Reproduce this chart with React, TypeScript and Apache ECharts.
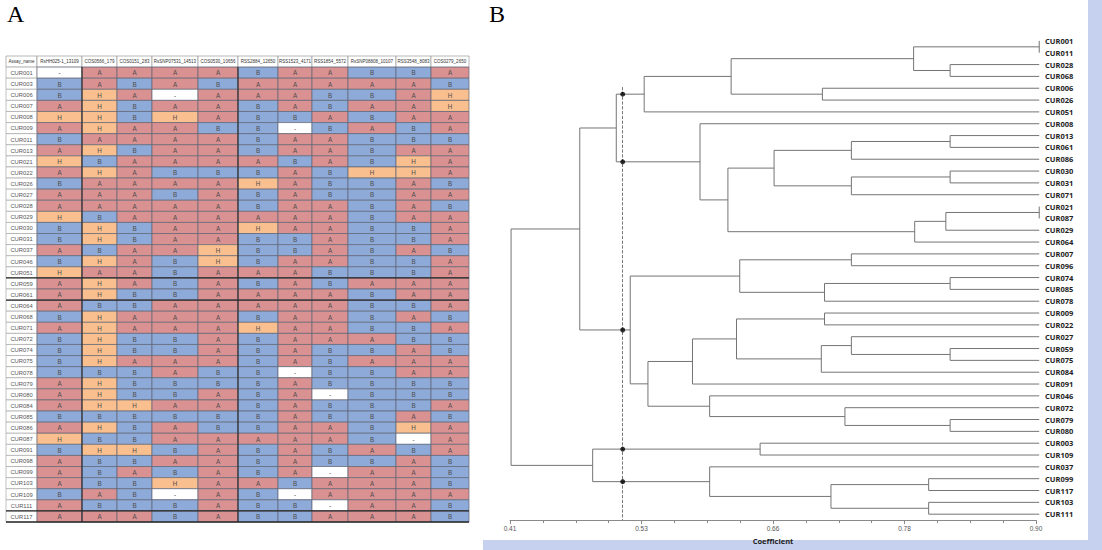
import React, { useEffect, useRef } from "react";
import * as echarts from "echarts";

// ---------------- Panel A: genotype table ----------------
const markerNames = [
  "RsHH025-1_13109", "COS0566_179", "COS0151_283", "RsSNP07531_14513", "COS0530_10656",
  "RSS2884_12650", "RSS1523_4171", "RSS1854_5572", "RsSNP08808_10107", "RSS3548_8083", "COS0279_2650",
];
const sampleNames = [
  "CUR001", "CUR003", "CUR006", "CUR007", "CUR008", "CUR009", "CUR011", "CUR013", "CUR021", "CUR022",
  "CUR026", "CUR027", "CUR028", "CUR029", "CUR030", "CUR031", "CUR037", "CUR046", "CUR051", "CUR059",
  "CUR061", "CUR064", "CUR068", "CUR071", "CUR072", "CUR074", "CUR075", "CUR078", "CUR079", "CUR080",
  "CUR084", "CUR085", "CUR086", "CUR087", "CUR091", "CUR098", "CUR099", "CUR103", "CUR109", "CUR111", "CUR117",
];
// one string per sample, one character per marker (A, B, H, - = missing)
const genotypeRows = [
  "-AAAABAABBA", "BABABAAAAAB", "BHA-AAABBAH", "AHBAABABAAH", "HHBHABBABAA", "AHAABB-BABA",
  "BAAAABAABBB", "AHBAABAABAA", "HBAAAABABHA", "AHABBBABHHA", "BAAAAHABBAB", "AAABABABBAA",
  "AAAAABAABAB", "HBAAAAAABAA", "BHBAAHAABBA", "BHBAABBABBA", "ABAAHBBABAB", "BHABHBAABBA",
  "HAABAAABBBA", "AHABABABAAA", "AHBBAAAABAA", "ABBAAAAABBA", "BHAAABAABAB", "AHAAAHAABBA",
  "BHBBABAAABB", "BHBBABABBAB", "BHAAABABAAA", "BBBABB-BBAA", "AHBBBBABBBB", "AHBBABA-BBB",
  "AHHAABABBBA", "BBBBBBABBAB", "AHBABBAABHA", "HBBAAAAAB-A", "BHHBABABABA", "ABBAABABBAB",
  "ABABABA-AAB", "ABBHAABAAAB", "BAB-AB-AAAA", "ABBBABB-AAB", "AAABABBAAAB",
];
const groupBreaksAfter = ["CUR051", "CUR061", "CUR111"];

// ---------------- Panel B: dendrogram ----------------
const leafOrder = [
  "CUR001", "CUR011", "CUR028", "CUR068", "CUR006", "CUR026", "CUR051", "CUR008", "CUR013", "CUR061",
  "CUR086", "CUR030", "CUR031", "CUR071", "CUR021", "CUR087", "CUR029", "CUR064", "CUR007", "CUR096",
  "CUR074", "CUR085", "CUR078", "CUR009", "CUR022", "CUR027", "CUR059", "CUR075", "CUR084", "CUR091",
  "CUR046", "CUR072", "CUR079", "CUR080", "CUR003", "CUR109", "CUR037", "CUR099", "CUR117", "CUR103", "CUR111",
];
// [child, child, similarity coefficient]; "m<k>" refers to the k-th merge
const merges: [string, string, number][] = [
  ["CUR001", "CUR011", 0.903], // m0
  ["CUR028", "CUR068", 0.82], // m1
  ["m0", "m1", 0.786], // m2
  ["CUR006", "CUR026", 0.701], // m3
  ["m2", "m3", 0.616], // m4
  ["m4", "CUR051", 0.535], // m5
  ["CUR013", "CUR061", 0.82], // m6
  ["m6", "CUR086", 0.728], // m7
  ["CUR030", "CUR031", 0.82], // m8
  ["m8", "CUR071", 0.728], // m9
  ["m7", "m9", 0.656], // m10
  ["CUR021", "CUR087", 0.903], // m11
  ["m11", "CUR029", 0.816], // m12
  ["m12", "CUR064", 0.787], // m13
  ["m10", "m13", 0.613], // m14
  ["CUR008", "m14", 0.587], // m15
  ["m5", "m15", 0.509], // m16
  ["CUR007", "CUR096", 0.728], // m17
  ["CUR074", "CUR085", 0.82], // m18
  ["m18", "CUR078", 0.703], // m19
  ["m17", "m19", 0.624], // m20
  ["CUR009", "CUR022", 0.703], // m21
  ["CUR059", "CUR075", 0.82], // m22
  ["CUR027", "m22", 0.728], // m23
  ["m23", "CUR084", 0.7], // m24
  ["m21", "m24", 0.621], // m25
  ["m25", "CUR091", 0.58], // m26
  ["CUR079", "CUR080", 0.82], // m27
  ["CUR072", "m27", 0.722], // m28
  ["CUR046", "m28", 0.596], // m29
  ["m26", "m29", 0.5385], // m30
  ["m20", "m30", 0.522], // m31
  ["m16", "m31", 0.475], // m32
  ["CUR003", "CUR109", 0.643], // m33
  ["CUR099", "CUR117", 0.8], // m34
  ["CUR103", "CUR111", 0.8], // m35
  ["m34", "m35", 0.709], // m36
  ["CUR037", "m36", 0.596], // m37
  ["m33", "m37", 0.487], // m38
  ["m32", "m38", 0.411], // m39
];
const leafLevel = 0.903;
const cutoff = 0.515;
const axisMin = 0.41;
const axisMax = 0.9;
const xTickLabels = ["0.41", "0.53", "0.66", "0.78", "0.90"];

// ---------------- layout / style ----------------
const colWidths = [31, 45, 35, 35, 46, 40, 40, 34, 36, 48, 35, 38];
const genoColors: Record<string, string> = { A: "#da9191", B: "#8eaad8", H: "#f9bf8e", "-": "#ffffff" };

export default function App() {
  const ref = useRef<HTMLDivElement>(null);

  useEffect(() => {
    if (!ref.current) return;
    const chart = echarts.init(ref.current, null, { renderer: "svg" });

    // ---- table cells ----
    const colStart: number[] = [];
    let acc = 0;
    colWidths.forEach((w) => { colStart.push(acc); acc += w; });
    const tableWidth = acc;
    const cellData: number[][] = [];
    const cellInfo: { text: string; kind: string }[] = [];
    const addCell = (c: number, r: number, text: string, kind: string) => {
      cellData.push([colStart[c], r, colWidths[c]]);
      cellInfo.push({ text, kind });
    };
    addCell(0, 0, "Assay_name", "head");
    markerNames.forEach((m, j) => addCell(j + 1, 0, m, "head"));
    sampleNames.forEach((s, i) => {
      addCell(0, i + 1, s, "name");
      for (let j = 0; j < markerNames.length; j++) addCell(j + 1, i + 1, genotypeRows[i][j], "geno");
    });
    const nRows = sampleNames.length + 1;

    // rules: thick horizontal breaks and darker column edges
    const rules: number[][] = [];
    groupBreaksAfter.forEach((s) => {
      const r = sampleNames.indexOf(s) + 1 + 0.5;
      rules.push([0, r, tableWidth, r, 1.4]);
    });
    [2, 6].forEach((c) => rules.push([colStart[c], 0.5, colStart[c], nRows - 0.5, 1.1]));
    rules.push([0, nRows - 0.5, tableWidth, nRows - 0.5, 1.6]);

    // ---- dendrogram layout ----
    const pos: Record<string, { x: number; y: number }> = {};
    leafOrder.forEach((n, i) => (pos[n] = { x: leafLevel, y: i }));
    const treeData: number[][] = [];
    const dots: number[][] = [];
    merges.forEach(([a, b, c], k) => {
      const pa = pos[a];
      const pb = pos[b];
      pos["m" + k] = { x: c, y: (pa.y + pb.y) / 2 };
      treeData.push([c - axisMin, pa.y, pb.y, pa.x - axisMin, pb.x - axisMin]);
      [pa, pb].forEach((p) => {
        if (p.x > cutoff && c < cutoff) dots.push([cutoff - axisMin, p.y]);
      });
    });
    const dotTop = Math.min(...dots.map((d) => d[1])) - 0.6;
    const step = (axisMax - axisMin) / 4;
    const treeStroke = { stroke: "#747474", lineWidth: 1 };

    const option: any = {
      animation: false,
      backgroundColor: "#ffffff",
      textStyle: { fontFamily: "Liberation Sans" },
      grid: [
        { left: 6, top: 56, width: tableWidth, height: 466 },
        { left: 510, top: 35, width: 526, height: 487 },
      ],
      xAxis: [
        { gridIndex: 0, type: "value", min: 0, max: tableWidth, show: false },
        {
          gridIndex: 1,
          type: "value",
          position: "bottom",
          min: 0,
          max: axisMax - axisMin,
          interval: step,
          axisLine: { onZero: false, lineStyle: { color: "#8a8a8a", width: 1 } },
          axisTick: { length: 4, lineStyle: { color: "#8a8a8a" } },
          minorTick: { show: true, splitNumber: 4, length: 3, lineStyle: { color: "#8a8a8a" } },
          splitLine: { show: false },
          minorSplitLine: { show: false },
          axisLabel: {
            fontSize: 6.5,
            color: "#555",
            margin: 5,
            formatter: (v: number) => xTickLabels[Math.round(v / step)] ?? "",
          },
          name: "Coefficient",
          nameLocation: "middle",
          nameGap: 16,
          nameTextStyle: { fontSize: 7.5, fontWeight: "bold", color: "#222", fontFamily: "Open Sans" },
        },
      ],
      yAxis: [
        { gridIndex: 0, type: "value", min: -0.5, max: nRows - 0.5, inverse: true, show: false },
        { gridIndex: 1, type: "value", min: -0.5, max: leafOrder.length - 0.5, inverse: true, show: false },
        {
          gridIndex: 1,
          type: "category",
          data: leafOrder,
          inverse: true,
          position: "right",
          axisLine: { show: false },
          axisTick: { show: false },
          splitLine: { show: false },
          axisLabel: { margin: 9, fontSize: 7.5, fontWeight: "bold", color: "#222", fontFamily: "Open Sans" },
        },
      ],
      graphic: [
        { type: "text", left: 7, top: 2, style: { text: "A", fontSize: 24, fontFamily: "Liberation Serif", fill: "#000" } },
        { type: "text", left: 489, top: 2, style: { text: "B", fontSize: 24, fontFamily: "Liberation Serif", fill: "#000" } },
        { type: "rect", left: 1088, top: 0, shape: { width: 14, height: 550 }, style: { fill: "#c6d1ef" } },
        { type: "rect", left: 483, top: 540, shape: { width: 619, height: 10 }, style: { fill: "#c6d1ef" } },
      ],
      series: [
        {
          type: "custom",
          name: "table",
          xAxisIndex: 0,
          yAxisIndex: 0,
          data: cellData,
          silent: true,
          renderItem: (params: any, api: any) => {
            const info = cellInfo[params.dataIndex];
            const p = api.coord([api.value(0), api.value(1)]);
            const s = api.size([api.value(2), 1]);
            const x = p[0];
            const y = p[1] - s[1] / 2;
            let fill = "#ffffff";
            let stroke = "#a8a8a8";
            let fontSize = 6.2;
            let color = "#4a4a4a";
            if (info.kind === "geno") {
              fill = genoColors[info.text] || "#fff";
              stroke = "#5e6675";
              fontSize = 6.3;
              color = "#4d4d4d";
            } else if (info.kind === "head") {
              fontSize = 4.5;
              color = "#333";
              stroke = "#9a9a9a";
            } else {
              fontSize = 5.8;
              color = "#555";
            }
            return {
              type: "group",
              children: [
                { type: "rect", shape: { x, y, width: s[0], height: s[1] }, style: { fill, stroke, lineWidth: 0.7 } },
                {
                  type: "text",
                  style: {
                    text: info.text,
                    x: x + s[0] / 2,
                    y: p[1] + 0.3,
                    align: "center",
                    verticalAlign: "middle",
                    fontSize,
                    fill: color,
                    fontFamily: "Liberation Sans",
                  },
                },
              ],
            };
          },
        },
        {
          type: "custom",
          name: "tableRules",
          xAxisIndex: 0,
          yAxisIndex: 0,
          data: rules,
          silent: true,
          renderItem: (params: any, api: any) => {
            const a = api.coord([api.value(0), api.value(1)]);
            const b = api.coord([api.value(2), api.value(3)]);
            return {
              type: "line",
              shape: { x1: a[0], y1: a[1], x2: b[0], y2: b[1] },
              style: { stroke: "#2a2a2a", lineWidth: api.value(4) },
            };
          },
        },
        {
          type: "custom",
          name: "dendrogram",
          xAxisIndex: 1,
          yAxisIndex: 1,
          data: treeData,
          silent: true,
          clip: false,
          renderItem: (params: any, api: any) => {
            const nx = api.value(0);
            const p1 = api.coord([nx, api.value(1)]);
            const p2 = api.coord([nx, api.value(2)]);
            const c1 = api.coord([api.value(3), api.value(1)]);
            const c2 = api.coord([api.value(4), api.value(2)]);
            return {
              type: "group",
              children: [
                { type: "line", shape: { x1: p1[0], y1: p1[1], x2: p2[0], y2: p2[1] }, style: treeStroke },
                { type: "line", shape: { x1: p1[0], y1: p1[1], x2: c1[0], y2: c1[1] }, style: treeStroke },
                { type: "line", shape: { x1: p2[0], y1: p2[1], x2: c2[0], y2: c2[1] }, style: treeStroke },
              ],
            };
          },
        },
        {
          type: "scatter",
          name: "cut",
          xAxisIndex: 1,
          yAxisIndex: 1,
          data: dots,
          symbol: "circle",
          symbolSize: 5,
          itemStyle: { color: "#000" },
          silent: true,
          z: 5,
          markLine: {
            silent: true,
            symbol: ["none", "none"],
            label: { show: false },
            lineStyle: { type: "dashed", color: "#555", width: 0.8 },
            data: [[{ coord: [cutoff - axisMin, dotTop] }, { coord: [cutoff - axisMin, leafOrder.length - 0.5] }]],
          },
        },
      ],
    };
    chart.setOption(option);
    return () => chart.dispose();
  }, []);

  return (
    <div
      ref={ref}
      style={{ position: "absolute", left: 0, top: 0, width: 1102, height: 550, background: "#fff" }}
    />
  );
}
